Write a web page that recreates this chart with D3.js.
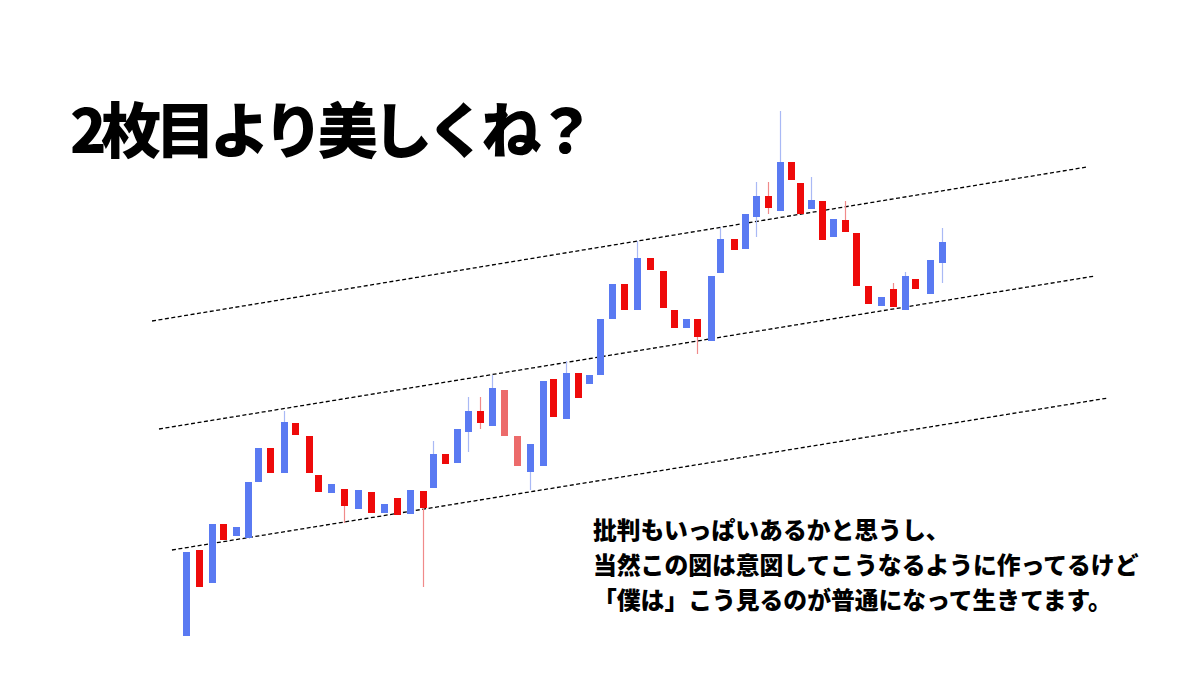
<!DOCTYPE html>
<html>
<head>
<meta charset="utf-8">
<script src="https://cdn.jsdelivr.net/npm/d3@7"></script>
<style>
  html, body { margin: 0; padding: 0; background: #ffffff; }
  svg { display: block; }
</style>
</head>
<body>
<svg id="chart" width="1200" height="675"></svg>
<script>
// ---- data ----
const titleText = "2枚目より美しくね？";
const noteLines = [
  "批判もいっぱいあるかと思うし、",
  "当然この図は意図してこうなるように作ってるけど",
  "「僕は」こう見るのが普通になって生きてます。"
];
// time position of each candle (slightly irregular)
const times = [0,1.08,2.13,3.08,4.17,5.17,6.04,7.04,8.17,9.08,10.21,11.04,12.08,13.13,14.33,15.38,16.46,17.58,18.67,19.75,20.58,21.58,22.58,23.5,24.54,25.54,26.54,27.58,28.67,29.71,30.58,31.67,32.63,33.58,34.54,35.46,36.46,37.58,38.67,39.71,40.63,41.63,42.58,43.75,44.54,45.63,46.58,47.54,48.54,49.5,50.38,51.13,52.08,52.96,53.92,54.88,55.83,56.83,57.88,58.88,59.88,60.79,62.04,63];
// OHLC per candle (price units)
const opens  = [4.8,22,15.4,27.2,24.8,24.4,35.6,42.4,37.4,47.4,44.8,37,33.4,34.2,30.2,33.6,29.4,32.4,29.2,33.8,34.4,41.2,39.4,45.6,49.8,46.8,54,44.8,37.6,38.8,56.2,48.2,57.4,55.2,57,68.2,75.2,70,80.4,77.8,70,66.4,68.2,63.8,77.4,84.2,82.2,88.6,92.8,89.8,99.6,95.4,90.2,91.8,84.6,88,85.4,74.8,70.8,74.2,70,76.2,73.2,79.4];
const closes = [21.6,14.6,27.2,24,26.6,35.6,42.4,37.4,47.6,45,37.4,33.6,35.2,30.8,34,29.4,31.2,29,34,30.4,41.2,39.2,46.2,49.8,47.4,54.4,44.8,38.8,43.2,55.8,48.6,57.4,52.4,57,68.2,75.2,70,80.4,78,70.4,66.4,68.2,64.6,76.8,84.2,82,89.2,92.8,90.4,99.6,96,89.2,92,84,88.2,85.6,74.8,71.2,72.6,70.6,76.8,74.2,80,83.6];
const highs  = [21.6,22,27.2,27.2,26.6,35.6,42.4,42.4,49.8,47.4,44.8,37,35.2,34.2,34,33.6,31.2,32.4,34,33.8,43.8,41.2,46.2,52.6,52.6,57,54,44.8,43.2,55.8,56.2,59.8,57.4,57,68.2,75.2,75.2,83.8,80.4,77.8,70,68.2,68.2,76.8,86.4,84.2,89.2,95.6,95.6,109.8,99.6,95.4,96.6,91.8,88.2,91.8,85.4,74.8,72.6,75.4,77.6,76.2,80,86.4];
const lows   = [4.8,14.6,15.4,24,24.8,24.4,35.6,37.4,37.4,45,37.4,33.6,33.4,27.4,30.2,29.4,29.4,29,29.2,14.6,34.4,39.2,39.4,41.6,46.2,46.8,44.8,38.8,34,38.8,48.6,48.2,52.4,55.2,57,68.2,70,70,78,70.4,66.4,66.4,61.2,63.8,77.4,82,82.2,84.6,89.2,89.8,96,89.2,90.2,84,84.6,85.6,74.8,71.2,70.8,70.6,70,74.2,73.2,75.4];
const fadedCandles = [26, 27];
// channel lines: [time, price] at start and end
const channelStart = [[-2.83, 67.8], [-2.25, 46.2], [-1.17, 22.0]];
const channelEnd   = [[75.08, 98.6], [75.75, 76.8], [76.83, 52.4]];

// ---- chart ----
const svg = d3.select("#chart");
const x = d3.scaleLinear().domain([0, 63]).range([186, 942]);
const y = d3.scaleLinear().domain([0, 112]).range([660, 100]);

const candles = opens.map((o, i) => ({
  t: times[i], o, c: closes[i], h: highs[i], l: lows[i], faded: fadedCandles.includes(i)
}));

const col = d => d.faded ? "#ec6b6b" : (d.c >= d.o ? "#5a7af2" : "#ee0a0a");
const wickCol = d => d.faded ? "#f09a9a" : (d.c >= d.o ? "#a9b9f5" : "#f08a8a");
const bodyW = 7;

// channel lines
svg.append("g").selectAll("line")
  .data(channelStart.map((s, k) => ({ s, e: channelEnd[k] })))
  .join("line")
  .attr("x1", d => x(d.s[0])).attr("y1", d => y(d.s[1]))
  .attr("x2", d => x(d.e[0])).attr("y2", d => y(d.e[1]))
  .attr("stroke", "#000")
  .attr("stroke-width", 1.3)
  .attr("stroke-dasharray", "4,2.5");

const g = svg.append("g");
// wicks
g.selectAll("line.wick").data(candles).join("line")
  .attr("class", "wick")
  .attr("x1", d => Math.round(x(d.t)) + 0.5).attr("x2", d => Math.round(x(d.t)) + 0.5)
  .attr("y1", d => y(d.h)).attr("y2", d => y(d.l))
  .attr("stroke", wickCol)
  .attr("stroke-width", 1.2);
// bodies
g.selectAll("rect.body").data(candles).join("rect")
  .attr("class", "body")
  .attr("x", d => Math.round(x(d.t)) + 0.5 - bodyW / 2)
  .attr("width", bodyW)
  .attr("y", d => y(Math.max(d.o, d.c)))
  .attr("height", d => Math.max(1, Math.abs(y(d.o) - y(d.c))))
  .attr("fill", col);

// title
svg.append("text")
  .attr("x", 70).attr("y", 153)
  .attr("font-family", "'Noto Sans CJK JP', 'Noto Sans', sans-serif")
  .attr("font-weight", 900)
  .attr("font-size", 60)
  .attr("letter-spacing", -5.5)
  .attr("fill", "#000")
  .text(titleText);

// note
svg.append("g").selectAll("text").data(noteLines).join("text")
  .attr("x", 593)
  .attr("y", (d, i) => 539 + i * 35)
  .attr("font-family", "'Noto Sans CJK JP', sans-serif")
  .attr("font-weight", 900)
  .attr("font-size", 23.8)
  .attr("fill", "#000")
  .text(d => d);
</script>
</body>
</html>
